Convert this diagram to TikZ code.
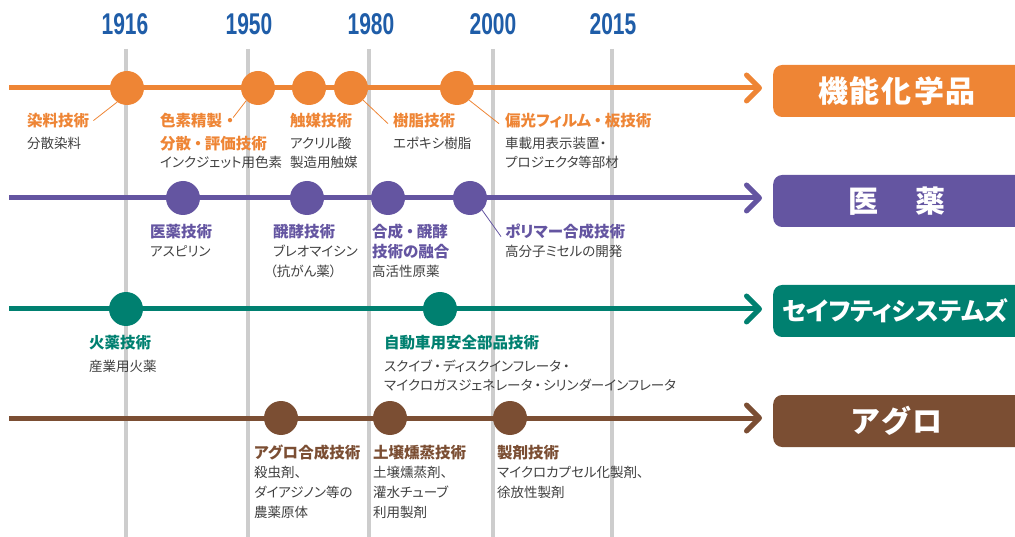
\documentclass[tikz,border=0pt]{standalone}
\usepackage{fontspec}
\setmainfont{Noto Sans CJK JP}[RawFeature=+palt]
\newfontfamily\yearfont{Liberation Sans Bold}[FakeStretch=0.7]
\usetikzlibrary{arrows.meta}
\definecolor{corange}{HTML}{EE8535}
\definecolor{cpurple}{HTML}{6455A1}
\definecolor{cteal}{HTML}{008070}
\definecolor{cbrown}{HTML}{7B4E33}
\definecolor{cblue}{HTML}{1F5DA8}
\definecolor{cgrid}{HTML}{CDCDCD}
\definecolor{ctext}{HTML}{404040}
\tikzset{
  year/.style={font=\yearfont\fontsize{30}{30}\selectfont, text=cblue, anchor=base, inner sep=0},
  gridline/.style={cgrid, line width=3.5pt},
  tl/.style={line width=5pt, -{Straight Barb[length=13pt, width=26pt, round]}},
  dot/.style={circle, minimum size=34pt, inner sep=0},
  ttl/.style={font=\bfseries\fontsize{15.5}{15.5}\selectfont, anchor=base west, inner sep=0},
  sub/.style={font=\fontsize{13.5}{13.5}\selectfont, text=ctext, anchor=base west, inner sep=0},
  leader/.style={line width=0.8pt},
  catbox/.style={rectangle, rounded corners=9pt, minimum width=280pt, minimum height=52pt, anchor=west, inner sep=0},
  cattxt/.style={font=\bfseries\fontsize{30}{30}\selectfont, text=white, inner sep=0},
}
\begin{document}
\begin{tikzpicture}[x=1pt,y=-1pt]
\useasboundingbox (0,0) rectangle (1015,537);
% years
\node[year] (y1) at (125,35) {1916};
\node[year] (y2) at (249,35) {1950};
\node[year] (y3) at (371,35) {1980};
\node[year] (y4) at (493,35) {2000};
\node[year] (y5) at (613,35) {2015};
% grid lines
\foreach \gx/\n in {126/1,248/2,369/3,493/4,612/5}{
  \coordinate (gt\n) at (\gx,49);
  \coordinate (gb\n) at (\gx,540);
  \draw[gridline] (gt\n) -- (gb\n);
}
% category boxes
\node[catbox, fill=corange] (b1) at (773,91) {};
\node[cattxt] (b1t) at (897,91) {機\kern2pt 能\kern2pt 化\kern2pt 学\kern2pt 品};
\node[catbox, fill=cpurple] (b2) at (773,201) {};
\node[cattxt] (b2t) at (897,201) {医\hspace{38pt}薬};
\node[catbox, fill=cteal] (b3) at (773,311) {};
\node[cattxt, anchor=west, font=\bfseries\fontsize{25}{25}\selectfont] (b3t) at (782,311) {セイフティシステムズ};
\node[catbox, fill=cbrown] (b4) at (773,421) {};
\node[cattxt] (b4t) at (897,421) {ア\kern2pt グ\kern2pt ロ};
% timelines
\coordinate (o0) at (9,88);  \coordinate (o1) at (762,88);
\coordinate (p0) at (9,198); \coordinate (p1) at (762,198);
\coordinate (t0) at (9,309); \coordinate (t1) at (762,309);
\coordinate (r0) at (9,418); \coordinate (r1) at (762,418);
\draw[tl, corange] (o0) -- (o1);
\draw[tl, cpurple] (p0) -- (p1);
\draw[tl, cteal] (t0) -- (t1);
\draw[tl, cbrown] (r0) -- (r1);
% orange row
\node[dot, fill=corange] (oc1) at (127,88) {};
\node[dot, fill=corange] (oc2) at (258,88) {};
\node[dot, fill=corange] (oc3) at (309,88) {};
\node[dot, fill=corange] (oc4) at (351,88) {};
\node[dot, fill=corange] (oc5) at (457,88) {};
\node[ttl, text=corange] (ol1) at (27,126.5) {染料技術};
\node[sub] (os1) at (27,149) {分散染料};
\node[ttl, text=corange] (ol2) at (160,126.5) {色素精製\hspace{4pt}・};
\node[ttl, text=corange] (ol2b) at (160,149.5) {分散\hspace{3pt}・\hspace{3pt}評価技術};
\node[sub] (os2) at (160,168) {インクジェット用色素};
\node[ttl, text=corange] (ol3) at (290,126.5) {触媒技術};
\node[sub] (os3) at (290,149) {アクリル酸};
\node[sub] (os3b) at (290,168) {製造用触媒};
\node[ttl, text=corange] (ol4) at (393,126.5) {樹脂技術};
\node[sub] (os4) at (393,149) {エポキシ樹脂};
\node[ttl, text=corange] (ol5) at (505,126.5) {偏光フィルム\hspace{3pt}・\hspace{3pt}板技術};
\node[sub] (os5) at (505,149) {車載用表示装置・};
\node[sub] (os5b) at (505,168) {プロジェクタ等部材};
\draw[leader, corange] ([xshift=4pt]ol1.east) -- (oc1.235);
\draw[leader, corange] ([xshift=-1pt,yshift=3pt]ol2.east) -- (oc2.227);
\draw[leader, corange] (oc4.315) -- ([xshift=-5pt,yshift=-3pt]ol4.west);
\draw[leader, corange] (oc5.315) -- ([xshift=-6pt,yshift=-3pt]ol5.west);
% purple row
\node[dot, fill=cpurple] (pc1) at (183,198) {};
\node[dot, fill=cpurple] (pc2) at (307,198) {};
\node[dot, fill=cpurple] (pc3) at (388,198) {};
\node[dot, fill=cpurple] (pc4) at (470,198) {};
\node[ttl, text=cpurple] (pl1) at (150,237.5) {医薬技術};
\node[sub] (ps1) at (150,257) {アスピリン};
\node[ttl, text=cpurple] (pl2) at (273,237.5) {醗酵技術};
\node[sub] (ps2) at (273,257) {ブレオマイシン};
\node[sub] (ps2b) at (270,277) {（抗がん薬）};
\node[ttl, text=cpurple] (pl3) at (372,237.5) {合成\hspace{3pt}・\hspace{3pt}醗酵};
\node[ttl, text=cpurple] (pl3b) at (372,257.5) {技術の融合};
\node[sub] (ps3) at (372,277) {高活性原薬};
\node[ttl, text=cpurple] (pl4) at (505,237.5) {ポリマー合成技術};
\node[sub] (ps4) at (505,257) {高分子ミセルの開発};
\draw[leader, cpurple] (pc4.315) -- ([xshift=-4pt,yshift=-5pt]pl4.west);
% teal row
\node[dot, fill=cteal] (tc1) at (126,309) {};
\node[dot, fill=cteal] (tc2) at (440,309) {};
\node[ttl, text=cteal] (tl1) at (89,348.5) {火薬技術};
\node[sub] (ts1) at (89,371) {産業用火薬};
\node[ttl, text=cteal] (tl2) at (384,348.5) {自動車用安全部品技術};
\node[sub] (ts2) at (384,371) {スクイブ\hspace{2pt}・\hspace{2pt}ディスクインフレータ\hspace{2pt}・};
\node[sub] (ts2b) at (384,391) {マイクロガスジェネレータ\hspace{2pt}・\hspace{2pt}シリンダーインフレータ};
% brown row
\node[dot, fill=cbrown] (rc1) at (281,418) {};
\node[dot, fill=cbrown] (rc2) at (390,418) {};
\node[dot, fill=cbrown] (rc3) at (510,418) {};
\node[ttl, text=cbrown] (rl1) at (254,458.5) {アグロ合成技術};
\node[sub] (rs1) at (254,477) {殺虫剤、};
\node[sub] (rs1b) at (254,497) {ダイアジノン等の};
\node[sub] (rs1c) at (254,517) {農薬原体};
\node[ttl, text=cbrown] (rl2) at (373,458.5) {土壌燻蒸技術};
\node[sub] (rs2) at (373,477) {土壌燻蒸剤、};
\node[sub] (rs2b) at (373,497) {灌水チューブ};
\node[sub] (rs2c) at (373,517) {利用製剤};
\node[ttl, text=cbrown] (rl3) at (497,458.5) {製剤技術};
\node[sub] (rs3) at (497,477) {マイクロカプセル化製剤、};
\node[sub] (rs3b) at (497,497) {徐放性製剤};
\end{tikzpicture}
\end{document}
